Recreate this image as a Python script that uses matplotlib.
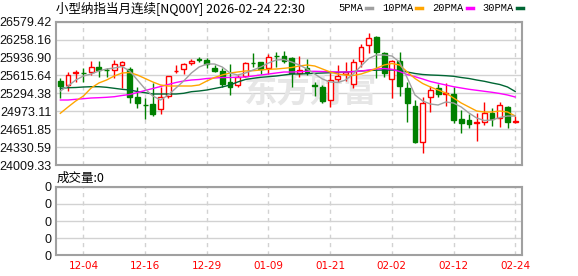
import matplotlib.pyplot as plt
from matplotlib.lines import Line2D
import numpy as np
import pandas as pd

# Daily candles 2025-12-01 .. 2026-02-24
open_ = [25515.9, 25438.7, 25659.3, 25662.9, 25671.9, 25767.0, 25718.5, 25713.1, 25797.4, 25725.7,
         25234.3, 25090.8, 25098.0, 25008.3, 25241.5, 25689.8, 25725.7, 25833.3, 25905.1, 25892.5,
         25743.6, 25695.2, 25497.9, 25444.1, 25614.5, 25844.1, 25851.3, 25743.6, 25969.6, 25964.2,
         25933.8, 25654.0, 25743.6, 25438.7, 25408.3, 25175.1, 25560.7, 25646.8, 25462.1, 25879.9,
         26161.5, 26299.6, 26018.0, 25548.1, 25879.9, 25384.9, 25067.5, 24427.2, 25228.9, 25384.9,
         25288.1, 25282.7, 24834.3, 24816.4, 24762.6, 24780.5, 24941.9, 24861.2, 25049.6, 24780.5]
high = [25564.3, 25673.7, 25713.1, 25743.6, 25869.2, 25869.2, 25743.6, 25892.5, 25869.2, 25772.3,
        25413.6, 25205.6, 25474.6, 25413.6, 25605.5, 25802.8, 25844.1, 25905.1, 25940.9, 25928.4,
        25802.8, 25743.6, 25815.4, 25623.5, 25862.0, 26012.7, 25856.6, 26000.1, 26036.0, 26059.3,
        25940.9, 25958.9, 25905.1, 25503.3, 25444.1, 25654.0, 25802.8, 25856.6, 25905.1, 26179.5,
        26371.4, 26317.6, 26036.0, 25892.5, 26030.6, 25503.3, 25175.1, 25234.3, 25426.2, 25462.1,
        25485.4, 25413.6, 24995.7, 24927.6, 24945.5, 25144.6, 25026.2, 25135.6, 25071.1, 24882.8]
low = [25205.6, 25341.9, 25503.3, 25503.3, 25623.5, 25582.2, 25582.2, 25564.3, 25395.7, 25126.7,
       25037.0, 24834.3, 24888.1, 24918.6, 25205.6, 25654.0, 25636.0, 25802.8, 25851.3, 25754.4,
       25671.9, 25413.6, 25264.8, 25417.2, 25593.0, 25772.3, 25636.0, 25636.0, 25772.3, 25833.3,
       25413.6, 25582.2, 25623.5, 25246.8, 25115.9, 25044.2, 25503.3, 25515.9, 25390.3, 25772.3,
       26012.7, 25564.3, 25582.2, 25219.9, 25237.9, 24785.9, 24409.3, 24233.5, 24965.3, 25223.5,
       25072.9, 24762.6, 24588.7, 24672.9, 24445.1, 24717.8, 24712.4, 24685.5, 24676.5, 24762.6]
close = [25431.6, 25618.1, 25671.9, 25650.4, 25761.6, 25718.5, 25707.8, 25815.4, 25856.6, 25228.9,
         25115.9, 25080.0, 24924.0, 25234.3, 25600.2, 25700.6, 25820.8, 25879.9, 25892.5, 25815.4,
         25700.6, 25462.1, 25399.3, 25587.6, 25838.7, 25833.3, 25731.1, 25940.9, 25958.9, 25883.5,
         25654.0, 25722.1, 25682.7, 25426.2, 25157.2, 25533.8, 25614.5, 25677.3, 25865.6, 26116.7,
         26281.7, 26036.0, 25654.0, 25879.9, 25420.8, 25115.9, 24427.2, 25115.9, 25363.4, 25282.7,
         25306.0, 24816.4, 24757.2, 24744.7, 24775.1, 24950.9, 24837.9, 25080.0, 24785.9, 24793.1]

# Moving averages as drawn on the chart
ma5 = [25336.5, 25426.2, 25533.8, 25605.5, 25641.4, 25695.2, 25731.1, 25749.0, 25775.9, 25695.2,
       25533.8, 25372.4, 25246.8, 25175.1, 25264.8, 25390.3, 25515.9, 25659.3, 25767.0, 25820.8,
       25820.8, 25767.0, 25659.3, 25623.5, 25659.3, 25713.1, 25767.0, 25838.7, 25892.5, 25901.5,
       25856.6, 25802.8, 25731.1, 25641.4, 25551.7, 25497.9, 25489.0, 25533.8, 25641.4, 25784.9,
       25919.4, 25982.2, 25982.2, 25964.2, 25856.6, 25569.7, 25264.8, 25157.2, 25103.4, 25085.4,
       25139.2, 25121.3, 25049.6, 24941.9, 24852.3, 24807.4, 24816.4, 24861.2, 24888.1, 24888.1]
ma10 = [24936.6, 25049.6, 25157.2, 25246.8, 25390.3, 25480.0, 25533.8, 25605.5, 25659.3, 25668.3,
        25623.5, 25560.7, 25497.9, 25444.1, 25426.2, 25426.2, 25426.2, 25426.2, 25444.1, 25515.9,
        25578.6, 25623.5, 25659.3, 25677.3, 25695.2, 25700.6, 25713.1, 25725.7, 25731.1, 25743.6,
        25758.0, 25784.9, 25802.8, 25784.9, 25731.1, 25677.3, 25641.4, 25623.5, 25614.5, 25641.4,
        25686.2, 25743.6, 25802.8, 25829.7, 25802.8, 25677.3, 25560.7, 25471.0, 25408.3, 25354.4,
        25300.7, 25211.0, 25121.3, 25049.6, 24977.8, 24959.9, 24959.9, 24977.8, 24959.9, 24888.1]
ma20 = [25175.1, 25175.1, 25187.6, 25198.4, 25211.0, 25216.4, 25223.5, 25234.3, 25255.8, 25273.7,
        25309.6, 25345.5, 25381.4, 25417.2, 25453.1, 25489.0, 25515.9, 25533.8, 25542.8, 25560.7,
        25569.7, 25578.6, 25578.6, 25582.2, 25587.6, 25605.5, 25623.5, 25641.4, 25659.3, 25677.3,
        25677.3, 25682.7, 25689.8, 25689.8, 25686.2, 25682.7, 25677.3, 25677.3, 25682.7, 25695.2,
        25713.1, 25731.1, 25740.1, 25725.7, 25686.2, 25632.4, 25593.0, 25551.7, 25506.9, 25474.6,
        25444.1, 25413.6, 25390.3, 25367.0, 25349.1, 25331.1, 25313.2, 25291.7, 25264.8, 25228.9]
ma30 = [25384.9, 25395.7, 25399.3, 25408.3, 25413.6, 25413.6, 25402.9, 25384.9, 25367.0, 25354.4,
        25327.5, 25306.0, 25282.7, 25282.7, 25282.7, 25282.7, 25295.3, 25324.0, 25336.5, 25354.4,
        25381.4, 25408.3, 25444.1, 25497.9, 25542.8, 25564.3, 25582.2, 25593.0, 25605.5, 25623.5,
        25641.4, 25641.4, 25646.8, 25654.0, 25659.3, 25664.7, 25671.9, 25677.3, 25686.2, 25695.2,
        25704.2, 25709.6, 25713.1, 25713.1, 25704.2, 25677.3, 25650.4, 25632.4, 25623.5, 25618.1,
        25610.9, 25600.2, 25578.6, 25560.7, 25533.8, 25510.5, 25480.0, 25453.1, 25408.3, 25327.5]

volume = [0] * 60

# Axis labels
price_ticks = [24009.33, 24330.59, 24651.85, 24973.11, 25294.38, 25615.64, 25936.90, 26258.16, 26579.42]
date_ticks = ['12-04', '12-16', '12-29', '01-09', '01-21', '02-02', '02-12', '02-24']

dates = pd.bdate_range('2025-12-01', '2026-02-24')
dates = dates[~dates.isin(pd.to_datetime(['2025-12-25', '2026-01-01']))]
day_labels = list(dates.strftime('%m-%d'))
tick_pos = [day_labels.index(d) for d in date_ticks]

RED = '#ff0000'
GREEN = '#008000'
GRID = '#d2d2d2'
BORDER = '#a0a0a0'
CJK = ['Noto Sans CJK SC', 'DejaVu Sans']

fig = plt.figure(figsize=(5.78, 2.76), dpi=100)
ax = fig.add_axes([55.7 / 578, 1 - 165 / 276, 466.3 / 578, 143.3 / 276])
axv = fig.add_axes([55.7 / 578, 1 - 255.3 / 276, 466.3 / 578, 68.6 / 276])

x = np.arange(len(close))
o = np.array(open_)
c = np.array(close)
up = c >= o

# Candles: wicks, then bodies (red hollow = up, green solid = down)
ax.vlines(x[up], np.array(low)[up], np.array(high)[up], color=RED, lw=1, zorder=2)
ax.vlines(x[~up], np.array(low)[~up], np.array(high)[~up], color=GREEN, lw=1, zorder=2)
ax.bar(x[up], (c - o)[up], bottom=o[up], width=0.62, facecolor='white', edgecolor=RED, lw=1, zorder=3)
ax.bar(x[~up], (o - c)[~up], bottom=c[~up], width=0.62, facecolor=GREEN, edgecolor=GREEN, lw=1, zorder=3)

# Moving averages
ax.plot(x, ma30, color='#006633', lw=1, zorder=4)
ax.plot(x, ma20, color='#ff00ff', lw=1, zorder=4)
ax.plot(x, ma10, color='#ffa500', lw=1, zorder=4)
ax.plot(x, ma5, color='#a0a0a0', lw=1, zorder=4)

# Watermark
ax.text(0.545, 0.50, '东方财富', transform=ax.transAxes, ha='center', va='center',
        fontsize=24, fontweight='bold', color='#e6e6e6', family=CJK, zorder=1)

ax.set_xlim(-0.6, 59.88)
ax.set_ylim(price_ticks[0], price_ticks[-1])
ax.set_yticks(price_ticks)
ax.set_yticklabels(['%.2f' % t for t in price_ticks], family='Liberation Sans', fontsize=9, color='#111111')
ax.set_xticks(tick_pos)
ax.set_xticklabels([])

# Volume panel (empty)
axv.bar(x, volume, width=0.62, color=GREEN)
axv.set_xlim(-0.6, 59.88)
axv.set_ylim(0, 4)
axv.set_yticks([0, 1, 2, 3, 4])
axv.set_yticklabels(['0'] * 5, family='Liberation Sans', fontsize=9, color='#111111')
axv.set_xticks(tick_pos)
axv.set_xticklabels(date_ticks, fontsize=7.5, color=RED)

for a in (ax, axv):
    a.tick_params(length=0, pad=3)
    a.yaxis.grid(True, color=GRID, lw=1, zorder=0)
    a.xaxis.grid(True, color=GRID, lw=1, linestyle=(0, (3, 3)), zorder=0)
    a.set_axisbelow(True)
    for s in a.spines.values():
        s.set_color(BORDER)
        s.set_linewidth(1.5)
axv.tick_params(axis='x', pad=4)

# Header texts
fig.text(56 / 578, 1 - 9 / 276, '小型纳指当月连续[NQ00Y] 2026-02-24 22:30', family=CJK,
         fontsize=9, va='center', ha='left')
fig.text(57 / 578, 1 - 178 / 276, '成交量:0', family=CJK, fontsize=9, va='center', ha='left')

# Legend
legend_items = [('5PMA', '#a0a0a0'), ('10PMA', '#ffa500'), ('20PMA', '#ff00ff'), ('30PMA', '#006633')]
lx = 338
for name, col in legend_items:
    t = fig.text(lx / 578, 1 - 8 / 276, name, family='Liberation Mono', fontsize=7.5,
                 va='center', ha='left')
    w = len(name) * 6.25
    fig.add_artist(Line2D([(lx + w + 3) / 578, (lx + w + 9) / 578], [1 - 8 / 276] * 2,
                          color=col, lw=2.5))
    lx += w + 19

fig.savefig('out.png', dpi=100)
